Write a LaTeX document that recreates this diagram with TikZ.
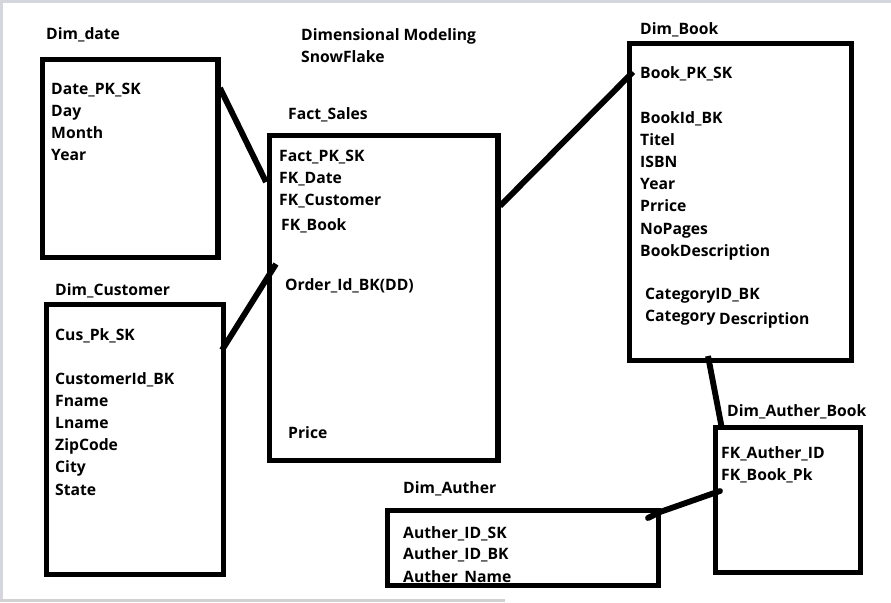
\documentclass[tikz,border=0pt]{standalone}
\usepackage{fontspec}
\setsansfont{Open Sans}
\usetikzlibrary{positioning}
\tikzset{
  tbl/.style n args={2}{draw=black,line width=4.3pt,inner sep=0pt,
    minimum width=#1*0.03cm,minimum height=#2*0.03cm},
  tblname/.style={anchor=base west,inner sep=0pt,font=\sffamily\bfseries\fontsize{13.4}{15}\selectfont},
  fld/.style={anchor=base west,inner sep=0pt,font=\sffamily\bfseries\fontsize{13.4}{15}\selectfont},
  link/.style={line width=5pt,black},
}
\begin{document}
\begin{tikzpicture}[x=0.03cm,y=-0.03cm]
  \useasboundingbox (0,0) rectangle (891,602);
  % screenshot frame
  \fill[blue!10!gray!30] (0,0) rectangle (891,2.5);
  \fill[blue!10!gray!30] (0,0) rectangle (2.5,602);
  \fill[gray!35] (0,598.5) rectangle (505,602);

  % title
  \node[tblname] (title1) at (301,40) {Dimensional Modeling};
  \node[tblname] (title2) at (301,62) {SnowFlake};

  % tables
  \node[tbl={175.5}{198}] (date) at (130.25,158.5) {};
  \node[tblname] (datename) at (46,39) {Dim\_date};
  \foreach \t/\y [count=\i] in {Date\_PK\_SK/94,Day/116,Month/138,Year/160}
    \node[fld] (date-\i) at (51,\y) {\t};

  \node[tbl={228.5}{325}] (fact) at (383.75,298) {};
  \node[tblname] (factname) at (288,119) {Fact\_Sales};
  \foreach \t/\x/\y [count=\i] in {Fact\_PK\_SK/279/161,FK\_Date/279/183,
      FK\_Customer/279/205,FK\_Book/281/230,Order\_Id\_BK(DD)/285/290,Price/288/438}
    \node[fld] (fact-\i) at (\x,\y) {\t};

  \node[tbl={222}{317}] (book) at (740.5,202) {};
  \node[tblname] (bookname) at (640,34) {Dim\_Book};
  \foreach \t/\x/\y [count=\i] in {Book\_PK\_SK/640/78,BookId\_BK/640/123,Titel/640/145,
      ISBN/640/167,Year/640/189,Prrice/640/211,NoPages/640/234,BookDescription/640/256,
      CategoryID\_BK/645/299,Category/645/321,Description/719/324}
    \node[fld] (book-\i) at (\x,\y) {\t};

  \node[tbl={177}{270}] (cust) at (135,439.5) {};
  \node[tblname] (custname) at (55,295) {Dim\_Customer};
  \foreach \t/\y [count=\i] in {Cus\_Pk\_SK/340,CustomerId\_BK/384,Fname/406,
      Lname/428,ZipCode/450,City/472,State/495}
    \node[fld] (cust-\i) at (55,\y) {\t};

  \node[fld] (auth-3) at (403,582) {Auther\_Name};
  \node[tbl={271}{75}] (auth) at (523,548) {};
  \node[tblname] (authname) at (403,493) {Dim\_Auther};
  \foreach \t/\y [count=\i] in {Auther\_ID\_SK/538,Auther\_ID\_BK/559}
    \node[fld] (auth-\i) at (403,\y) {\t};

  \node[tbl={145}{145}] (ab) at (788,500) {};
  \node[tblname] (abname) at (727,416) {Dim\_Auther\_Book};
  \foreach \t/\y [count=\i] in {FK\_Auther\_ID/458,FK\_Book\_Pk/480}
    \node[fld] (ab-\i) at (721,\y) {\t};

  % link ends
  \coordinate (dateR) at (220,88);
  \coordinate (factA) at (266,182);
  \coordinate (custR) at (222,350);
  \coordinate (factB) at (276,264);
  \coordinate (factR) at (500,206);
  \coordinate (bookL) at (633,72);
  \coordinate (bookB) at (708,356);
  \coordinate (abT) at (722,429);
  \coordinate (authR) at (648,518);
  \coordinate (authC) at (660,512);
  \coordinate (abL) at (720,491);

  % links
  \draw[link] (dateR) -- (factA);
  \draw[link] (custR) -- (factB);
  \draw[link] (factR) -- (bookL);
  \draw[link] (bookB) -- (abT);
  \draw[link,line cap=round] (authR) -- (authC) -- (abL);
\end{tikzpicture}
\end{document}
